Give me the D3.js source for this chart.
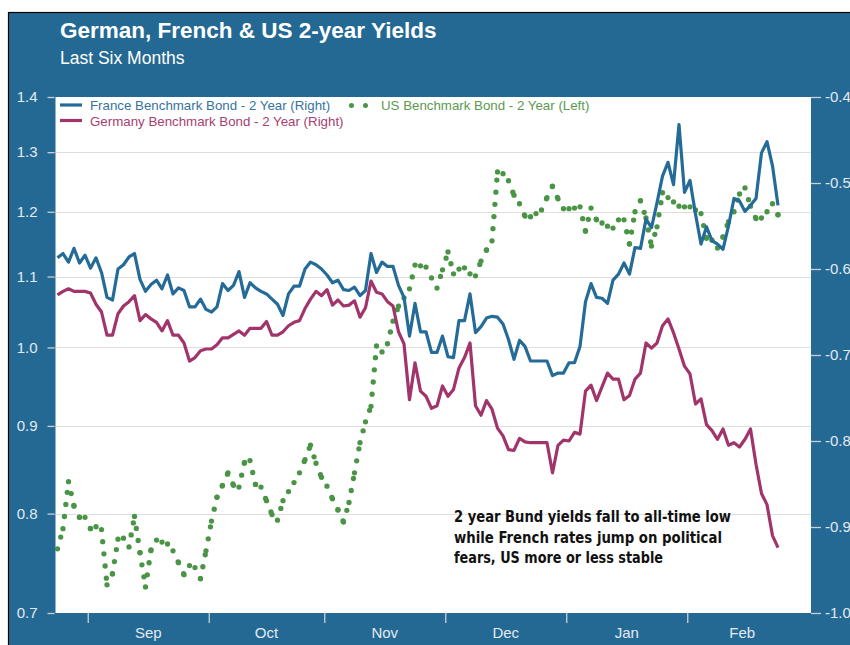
<!DOCTYPE html>
<html>
<head>
<meta charset="utf-8">
<script src="https://cdn.jsdelivr.net/npm/d3@7"></script>
<style>
  html, body { margin: 0; padding: 0; background: #ffffff; }
  svg { display: block; }
  text { font-family: 'Liberation Sans', Arial, sans-serif; }
</style>
</head>
<body>
<div id="chart"></div>
<script>
// one value per business day, 24 Aug 2016 .. 23 Feb 2017
const france = [
  -0.587, -0.582, -0.592, -0.576, -0.593, -0.584, -0.599, -0.587, -0.604, -0.633,
  -0.636, -0.600, -0.595, -0.586, -0.582, -0.612, -0.626, -0.618, -0.613, -0.623,
  -0.607, -0.629, -0.622, -0.625, -0.644, -0.644, -0.635, -0.647, -0.650, -0.644,
  -0.617, -0.625, -0.619, -0.603, -0.633, -0.616, -0.622, -0.626, -0.629, -0.635,
  -0.641, -0.654, -0.629, -0.620, -0.620, -0.600, -0.592, -0.595, -0.600, -0.607,
  -0.616, -0.613, -0.624, -0.625, -0.621, -0.631, -0.625, -0.582, -0.604, -0.592,
  -0.597, -0.597, -0.619, -0.633, -0.678, -0.640, -0.673, -0.673, -0.697, -0.697,
  -0.678, -0.702, -0.703, -0.660, -0.660, -0.629, -0.674, -0.667, -0.657, -0.655,
  -0.656, -0.664, -0.682, -0.705, -0.683, -0.690, -0.707, -0.707, -0.707, -0.707,
  -0.724, -0.721, -0.721, -0.709, -0.709, -0.690, -0.638, -0.617, -0.633, -0.634,
  -0.640, -0.613, -0.606, -0.593, -0.606, -0.575, -0.576, -0.542, -0.552, -0.523,
  -0.492, -0.476, -0.502, -0.432, -0.511, -0.497, -0.536, -0.571, -0.551, -0.567,
  -0.571, -0.577, -0.550, -0.518, -0.521, -0.533, -0.526, -0.518, -0.465, -0.452,
  -0.480, -0.526
];

const germany = [
  -0.630, -0.626, -0.623, -0.626, -0.626, -0.626, -0.628, -0.641, -0.650, -0.677,
  -0.677, -0.652, -0.643, -0.638, -0.631, -0.660, -0.653, -0.658, -0.662, -0.672,
  -0.660, -0.677, -0.677, -0.686, -0.707, -0.703, -0.695, -0.693, -0.693, -0.688,
  -0.680, -0.680, -0.676, -0.672, -0.677, -0.669, -0.669, -0.669, -0.661, -0.677,
  -0.677, -0.673, -0.666, -0.662, -0.660, -0.646, -0.635, -0.626, -0.631, -0.624,
  -0.642, -0.636, -0.643, -0.642, -0.637, -0.656, -0.645, -0.614, -0.627, -0.629,
  -0.638, -0.643, -0.673, -0.687, -0.752, -0.709, -0.742, -0.748, -0.762, -0.759,
  -0.736, -0.748, -0.740, -0.715, -0.703, -0.686, -0.759, -0.770, -0.753, -0.763,
  -0.785, -0.794, -0.810, -0.811, -0.797, -0.801, -0.802, -0.802, -0.802, -0.802,
  -0.837, -0.805, -0.799, -0.800, -0.790, -0.792, -0.742, -0.735, -0.753, -0.737,
  -0.721, -0.728, -0.728, -0.752, -0.747, -0.728, -0.721, -0.686, -0.692, -0.686,
  -0.666, -0.658, -0.674, -0.693, -0.713, -0.722, -0.757, -0.751, -0.781, -0.788,
  -0.798, -0.786, -0.805, -0.802, -0.807, -0.798, -0.786, -0.827, -0.861, -0.874,
  -0.910, -0.924
];

const us = [
  0.763, 0.784, 0.835, 0.808, 0.796, 0.796, 0.784, 0.786, 0.783, 0.727,
  0.738, 0.773, 0.774, 0.765, 0.797, 0.759, 0.725, 0.762, 0.772, 0.770,
  0.768, 0.761, 0.749, 0.737, 0.746, 0.744, 0.733, 0.761, 0.792, 0.818,
  0.831, 0.845, 0.831, 0.829, 0.857, 0.859, 0.832, 0.829, 0.814, 0.799,
  0.793, 0.814, 0.824, 0.834, 0.845, 0.860, 0.877, 0.856, 0.840, 0.830,
  0.816, 0.804, 0.791, 0.812, 0.845, 0.880, 0.905, 0.924, 1.002, 0.994,
  1.005, 1.036, 1.057, 1.069, 1.082, 1.117, 1.116, 1.114, 1.098, 1.083,
  1.110, 1.137, 1.104, 1.111, 1.113, 1.104, 1.101, 1.123, 1.140, 1.154,
  1.266, 1.263, 1.251, 1.227, 1.213, 1.193, 1.192, 1.197, 1.203, 1.223,
  1.242, 1.221, 1.205, 1.205, 1.206, 1.208, 1.169, 1.206, 1.187, 1.182,
  1.177, 1.174, 1.187, 1.187, 1.149, 1.200, 1.218, 1.190, 1.146, 1.176,
  1.231, 1.223, 1.216, 1.209, 1.208, 1.208, 1.203, 1.197, 1.158, 1.155,
  1.143, 1.160, 1.184, 1.200, 1.229, 1.239, 1.209, 1.189, 1.190, 1.200,
  1.213, 1.195
];

const monthLabels = ['Sep', 'Oct', 'Nov', 'Dec', 'Jan', 'Feb'];
const monthStart = [6, 28, 49, 71, 93, 115];
const monthEnd = [28, 49, 71, 93, 115, 135];

const leftTicks = [0.7, 0.8, 0.9, 1.0, 1.1, 1.2, 1.3, 1.4];
const rightTicks = [-1.0, -0.9, -0.8, -0.7, -0.6, -0.5, -0.4];

const title = 'German, French & US 2-year Yields';
const subtitle = 'Last Six Months';
const legendNames = [
  'France Benchmark Bond - 2 Year (Right)',
  'Germany Benchmark Bond - 2 Year (Right)',
  'US Benchmark Bond - 2 Year (Left)'
];
const note = [
  '2 year Bund yields fall to all-time low',
  'while French rates jump on political',
  'fears, US more or less stable'
];

const config = {
  width: 850,
  height: 645,
  plot: { left: 55.5, right: 811, top: 97, bottom: 613 },
  bg: '#246994',
  france: '#246b98',
  germany: '#a0346b',
  us: '#4a9545',
  axisText: '#e3eaf1',
  tickColor: '#c9cfd6',
  grid: '#dedede'
};

const svg = d3.select('#chart')
  .append('svg')
  .attr('width', config.width)
  .attr('height', config.height);

// frame
svg.append('rect')
  .attr('x', 8.5).attr('y', 12.5)
  .attr('width', config.width).attr('height', config.height)
  .style('fill', config.bg)
  .style('stroke', '#000')
  .style('stroke-width', 1.2);

const p = config.plot;
svg.append('rect')
  .attr('x', p.left).attr('y', p.top)
  .attr('width', p.right - p.left).attr('height', p.bottom - p.top)
  .style('fill', '#ffffff');

const x = d3.scaleLinear()
  .domain([0, france.length - 1])
  .range([57.5, 778]);

const yLeft = d3.scaleLog()
  .domain([0.7, 1.4])
  .range([p.bottom, p.top]);

const yRight = d3.scaleLinear()
  .domain([-1.0, -0.4])
  .range([p.bottom, p.top]);

// gridlines
svg.append('g')
  .selectAll('line')
  .data(leftTicks.slice(1, -1))
  .enter()
  .append('line')
  .attr('x1', p.left)
  .attr('x2', p.right)
  .attr('y1', d => Math.round(yLeft(d)) + 0.5)
  .attr('y2', d => Math.round(yLeft(d)) + 0.5)
  .style('stroke', config.grid)
  .style('stroke-width', 1.2);

// axes
const leftAxis = svg.append('g')
  .attr('transform', `translate(${p.left - 1},0)`)
  .call(d3.axisLeft(yLeft)
    .tickValues(leftTicks)
    .tickFormat(d => d.toFixed(1))
    .tickSize(7)
    .tickPadding(10));

const rightAxis = svg.append('g')
  .attr('transform', `translate(${p.right},0)`)
  .call(d3.axisRight(yRight)
    .tickValues(rightTicks)
    .tickFormat(d => d.toFixed(1))
    .tickSize(10)
    .tickPadding(4));

const bottomAxis = svg.append('g')
  .attr('transform', `translate(0,${p.bottom})`)
  .call(d3.axisBottom(x)
    .tickValues(monthStart.map(d => d - 0.5))
    .tickFormat('')
    .tickSize(10));

[leftAxis, rightAxis, bottomAxis].forEach(g => {
  g.select('.domain').remove();
  g.selectAll('.tick line').style('stroke', config.tickColor).style('stroke-width', 1.3);
  g.selectAll('.tick text')
    .style('fill', config.axisText)
    .style('font-size', '15px')
    .style('font-family', "'Liberation Sans', Arial, sans-serif");
});

svg.append('g')
  .selectAll('text')
  .data(monthLabels)
  .enter()
  .append('text')
  .attr('x', (d, i) => (x(monthStart[i] - 0.5) + x(monthEnd[i] - 0.5)) / 2)
  .attr('y', 638)
  .style('text-anchor', 'middle')
  .style('fill', config.axisText)
  .style('font-size', '15px')
  .text(d => d);

// series
const lines = svg.append('g');

const usPairs = d3.pairs(us.map((v, i) => [i, v]));
lines.append('g')
  .selectAll('line')
  .data(usPairs)
  .enter()
  .append('line')
  .attr('x1', d => x(d[0][0]))
  .attr('y1', d => yLeft(d[0][1]))
  .attr('x2', d => x(d[1][0]))
  .attr('y2', d => yLeft(d[1][1]))
  .style('stroke', config.us)
  .style('stroke-width', 5.3)
  .style('stroke-linecap', 'round')
  .style('stroke-dasharray', '0 12.2');

lines.append('circle')
  .attr('cx', x(us.length - 1))
  .attr('cy', yLeft(us[us.length - 1]))
  .attr('r', 2.65)
  .style('fill', config.us);

const rightLine = d3.line()
  .x((d, i) => x(i))
  .y(d => yRight(d));

lines.append('path')
  .datum(germany)
  .attr('d', rightLine)
  .style('fill', 'none')
  .style('stroke', config.germany)
  .style('stroke-width', 3.2)
  .style('stroke-linejoin', 'round');

lines.append('path')
  .datum(france)
  .attr('d', rightLine)
  .style('fill', 'none')
  .style('stroke', config.france)
  .style('stroke-width', 3.2)
  .style('stroke-linejoin', 'round');

// titles
svg.append('text')
  .attr('x', 60)
  .attr('y', 38)
  .style('fill', '#ffffff')
  .style('font-size', '22.5px')
  .style('font-weight', 'bold')
  .text(title);

svg.append('text')
  .attr('x', 60)
  .attr('y', 64)
  .style('fill', '#ffffff')
  .style('font-size', '17.5px')
  .text(subtitle);

// legend
const legend = svg.append('g').style('font-size', '13.3px');
legend.append('line')
  .attr('x1', 60).attr('x2', 82).attr('y1', 105).attr('y2', 105)
  .style('stroke', config.france).style('stroke-width', 3.2);
legend.append('text')
  .attr('x', 90).attr('y', 110)
  .style('fill', '#3473a1')
  .text(legendNames[0]);
legend.append('line')
  .attr('x1', 60).attr('x2', 82).attr('y1', 120.5).attr('y2', 120.5)
  .style('stroke', config.germany).style('stroke-width', 3.2);
legend.append('text')
  .attr('x', 90).attr('y', 125.5)
  .style('fill', '#a8406f')
  .text(legendNames[1]);
legend.append('line')
  .attr('x1', 351.5).attr('x2', 366).attr('y1', 105.5).attr('y2', 105.5)
  .style('stroke', config.us).style('stroke-width', 5)
  .style('stroke-linecap', 'round').style('stroke-dasharray', '0 14');
legend.append('text')
  .attr('x', 381).attr('y', 110)
  .style('fill', '#5a9a4f')
  .text(legendNames[2]);

// annotation
const noteWidths = [277, 268, 209];
svg.append('g')
  .selectAll('text')
  .data(note)
  .enter()
  .append('text')
  .attr('x', 454)
  .attr('y', (d, i) => 522 + i * 20.5)
  .attr('textLength', (d, i) => noteWidths[i])
  .attr('lengthAdjust', 'spacingAndGlyphs')
  .style('font-family', "'Liberation Sans Narrow', 'DejaVu Sans Condensed', 'Liberation Sans', sans-serif")
  .style('font-size', '16px')
  .style('font-weight', 'bold')
  .style('fill', '#111111')
  .text(d => d);
</script>
</body>
</html>
